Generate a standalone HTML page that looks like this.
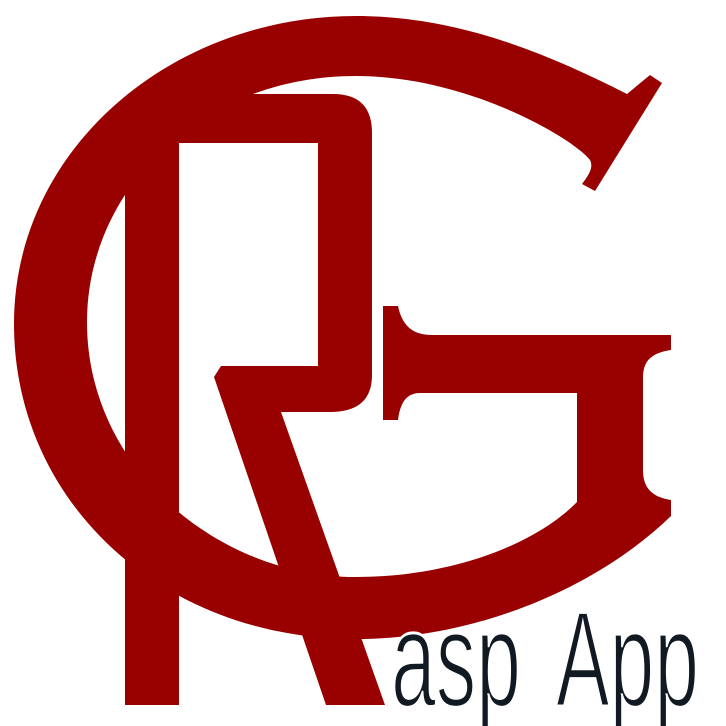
<!DOCTYPE html>
<html><head><meta charset="utf-8"><style>
html,body{margin:0;padding:0;background:#fff;width:726px;height:726px;overflow:hidden}
svg{display:block}
</style></head><body>
<svg width="726" height="726" viewBox="0 0 726 726">
<g fill="#990000">
<path fill-rule="evenodd" d="
M627,94 L650,75 L662,83 L595,191 L582,184 C588,176 594,168 590,160
C575,140 470,76 356,76
C200,76 87,190 87,322
C87,470 220,577 356,577
C450,577 535,545 577,502
L577,393 L420,393 C405,393 400,405 398,420 L383,420 L383,306 L398,306
C402,325 412,335 432,335 L671,335 L671,350
C650,353 643,362 643,378 L643,470 C643,488 652,497 671,500 L671,516
C600,585 480,639 356,639
C160,639 14,500 14,324
C14,150 170,16 356,16
C460,16 550,55 627,94 Z"/>
<rect x="125" y="118" width="54" height="587"/>
<path d="
M179,94 L333,94 Q372,94 372,133 L372,375 Q372,412 330,412 L281,412
L385,705 L326,705 L214,377 L221,366 L318,366 L318,143 L179,143 Z"/>
</g>
<g fill="#111a22" stroke="#fff" stroke-width="3" paint-order="normal" font-family="'Liberation Sans Narrow','Liberation Sans',sans-serif" font-size="136">
<text x="391" y="706" textLength="130" lengthAdjust="spacingAndGlyphs">asp</text>
<text x="556" y="706" textLength="143" lengthAdjust="spacingAndGlyphs">App</text>
</g>
</svg>
</body></html>
